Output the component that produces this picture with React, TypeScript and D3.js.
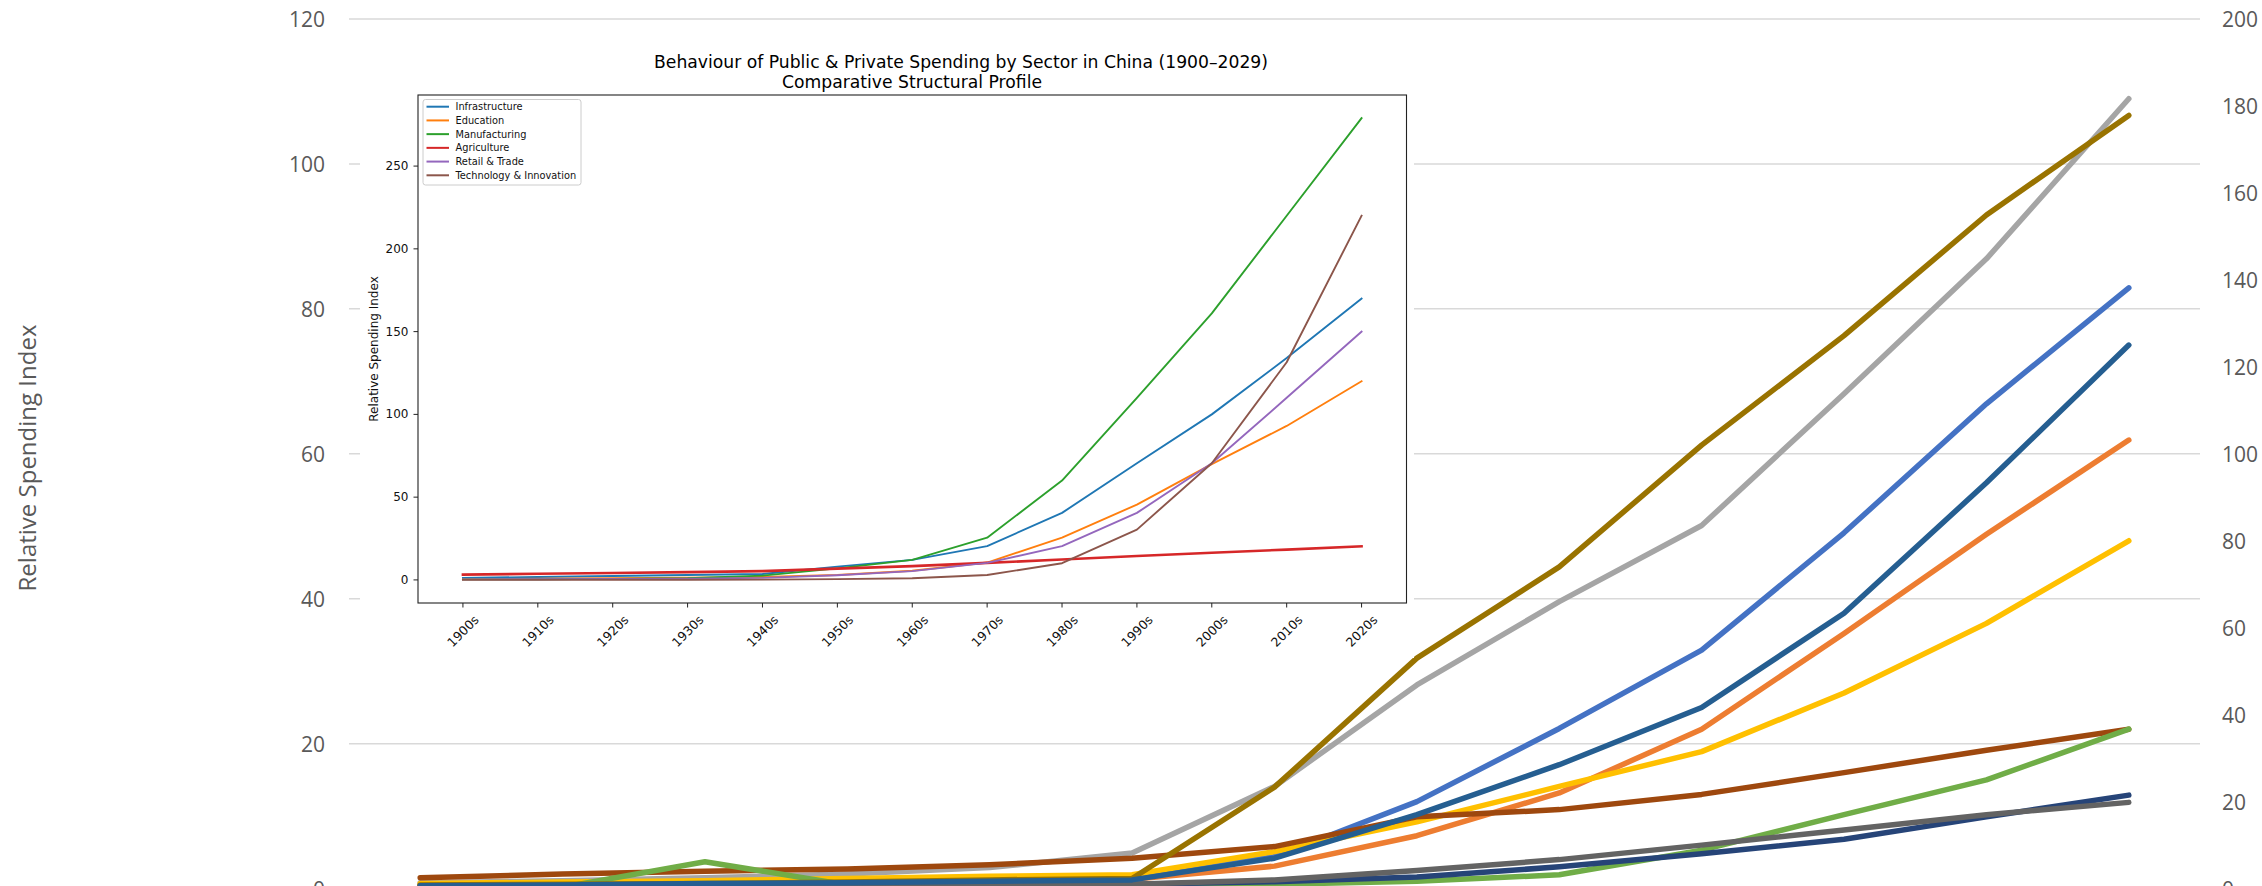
import React from 'react';
import * as d3 from 'd3';

// ---------- shared categories ----------
const decades = ['1900s', '1910s', '1920s', '1930s', '1940s', '1950s', '1960s', '1970s', '1980s', '1990s', '2000s', '2010s', '2020s'];

// ---------- outer chart (values on the left axis, 0-120) ----------
const leftTicks = [0, 20, 40, 60, 80, 100, 120];
const rightTicks = [0, 20, 40, 60, 80, 100, 120, 140, 160, 180, 200];

const outerBlue = [0.5, 0.6, 0.8, 1.0, 1.2, 1.4, 4.4, 12.0, 22.1, 32.9, 49.1, 66.9, 82.9];
const outerOrange = [0.5, 0.6, 0.8, 1.0, 1.2, 1.3, 3.1, 7.3, 13.2, 22.0, 35.2, 48.9, 61.9];
const outerGray = [0.8, 1.1, 1.5, 2.0, 2.9, 4.9, 14.1, 28.1, 39.6, 50.1, 68.3, 86.9, 109.0];
const outerYellow = [0.7, 0.9, 1.1, 1.4, 1.7, 1.9, 5.1, 9.2, 14.1, 18.9, 27.0, 36.6, 48.0];
const outerBrown = [1.5, 2.0, 2.4, 2.7, 3.3, 4.2, 5.8, 9.9, 10.9, 13.0, 16.0, 19.1, 22.0];
const outerGreen = [0.0, 0.2, 3.7, 0.5, 0.4, 0.5, 0.6, 1.0, 1.9, 5.3, 10.2, 15.0, 22.0];
const outerNavy = [0.2, 0.3, 0.3, 0.4, 0.5, 0.6, 0.95, 1.6, 3.0, 4.8, 6.8, 9.9, 12.9];
const outerDarkGray = [0.2, 0.3, 0.35, 0.4, 0.5, 0.6, 1.2, 2.5, 4.0, 6.0, 8.1, 10.2, 11.9];
const outerGold = [0.5, 0.6, 0.7, 0.9, 1.2, 1.4, 14.0, 31.8, 44.4, 61.2, 76.3, 92.95, 106.7];
const outerDarkBlue = [0.4, 0.5, 0.7, 0.8, 1.0, 1.2, 4.2, 10.2, 17.1, 25.0, 38.0, 56.0, 75.0];

const outerSeries = [
  { name: 'Series 1', values: outerBlue, color: '#4472C4' },
  { name: 'Series 2', values: outerOrange, color: '#ED7D31' },
  { name: 'Series 3', values: outerGray, color: '#A5A5A5' },
  { name: 'Series 4', values: outerYellow, color: '#FFC000' },
  { name: 'Series 5', values: outerBrown, color: '#9E480E' },
  { name: 'Series 6', values: outerGreen, color: '#70AD47' },
  { name: 'Series 7', values: outerNavy, color: '#264478' },
  { name: 'Series 8', values: outerDarkGray, color: '#636363' },
  { name: 'Series 9', values: outerGold, color: '#997300' },
  { name: 'Series 10', values: outerDarkBlue, color: '#255E91' },
];

// ---------- inset chart ----------
const insetTitle1 = 'Behaviour of Public & Private Spending by Sector in China (1900–2029)';
const insetTitle2 = 'Comparative Structural Profile';
const insetYLabel = 'Relative Spending Index';
const insetYTicks = [0, 50, 100, 150, 200, 250];

const infrastructure = [1.2, 1.8, 2.4, 3.0, 3.6, 8.0, 12.1, 20.4, 40.5, 70.5, 100.0, 134.0, 170.0];
const education = [0.5, 0.7, 1.0, 1.3, 1.8, 3.0, 5.5, 10.5, 25.5, 45.5, 70.0, 93.0, 120.0];
const manufacturing = [0.3, 0.4, 0.6, 1.0, 2.6, 7.0, 12.1, 25.5, 60.0, 110.0, 161.0, 220.0, 279.0];
const agriculture = [3.2, 3.7, 4.2, 4.7, 5.3, 6.8, 8.3, 10.3, 12.3, 14.4, 16.4, 18.3, 20.3];
const retail = [0.3, 0.4, 0.6, 0.8, 1.2, 2.8, 5.3, 10.3, 20.4, 40.5, 70.5, 110.0, 150.0];
const technology = [0.0, 0.0, 0.1, 0.1, 0.2, 0.5, 1.0, 3.0, 10.1, 30.4, 70.5, 131.5, 220.0];

const insetSeries = [
  { name: 'Infrastructure', values: infrastructure, color: '#1f77b4' },
  { name: 'Education', values: education, color: '#ff7f0e' },
  { name: 'Manufacturing', values: manufacturing, color: '#2ca02c' },
  { name: 'Agriculture', values: agriculture, color: '#d62728' },
  { name: 'Retail & Trade', values: retail, color: '#9467bd' },
  { name: 'Technology & Innovation', values: technology, color: '#8c564b' },
];

const outerTitle = 'Relative Spending Index';

export default function App() {
  const W = 2262;
  const H = 886;

  // outer scales
  const plotLeft = 349;
  const plotRight = 2200;
  const plotTop = 19;
  const plotBottom = 888.6;
  const ox = d3.scalePoint<string>().domain(decades).range([plotLeft, plotRight]).padding(0.5);
  const yL = d3.scaleLinear().domain([0, 120]).range([plotBottom, plotTop]);
  const yR = d3.scaleLinear().domain([0, 200]).range([plotBottom, plotTop]);
  const outerLine = d3
    .line<number>()
    .x((_, i) => ox(decades[i]) as number)
    .y((d) => yL(d));

  // inset scales
  const aL = 418;
  const aR = 1406.5;
  const aT = 95;
  const aB = 603;
  const ix = d3.scalePoint<string>().domain(decades).range([aL, aR]).padding(0.6);
  const allVals = insetSeries.flatMap((s) => s.values);
  const [mn, mx] = d3.extent(allVals) as [number, number];
  const pad = (mx - mn) * 0.05;
  const iy = d3.scaleLinear().domain([mn - pad, mx + pad]).range([aB, aT]);
  const insetLine = d3
    .line<number>()
    .x((_, i) => ix(decades[i]) as number)
    .y((d) => iy(d));

  const outerFont = "'Open Sans', 'Noto Sans', sans-serif";
  const mplFont = "'DejaVu Sans', sans-serif";

  return (
    <svg
      width={W}
      height={H}
      viewBox={`0 0 ${W} ${H}`}
      style={{ position: 'absolute', left: 0, top: 0, background: '#fff' }}
    >
      <rect x={0} y={0} width={W} height={H} fill="#fff" />

      {/* outer gridlines */}
      {leftTicks.map((t) => (
        <line key={'g' + t} x1={plotLeft} x2={plotRight} y1={yL(t)} y2={yL(t)} stroke="#D9D9D9" strokeWidth={1.5} />
      ))}

      {/* outer left tick labels */}
      {leftTicks.map((t) => (
        <text
          key={'l' + t}
          x={325}
          y={yL(t)}
          textAnchor="end"
          dominantBaseline="central"
          fontFamily={outerFont}
          fontSize={21}
          fill="#595959"
        >
          {t}
        </text>
      ))}
      {/* outer right tick labels */}
      {rightTicks.map((t) => (
        <text
          key={'r' + t}
          x={2222}
          y={yR(t)}
          textAnchor="start"
          dominantBaseline="central"
          fontFamily={outerFont}
          fontSize={21}
          fill="#595959"
        >
          {t}
        </text>
      ))}

      {/* outer axis title */}
      <text
        transform={`translate(26, 458) rotate(-90)`}
        textAnchor="middle"
        dominantBaseline="central"
        fontFamily={outerFont}
        fontSize={24}
        fill="#595959"
      >
        {outerTitle}
      </text>

      {/* outer lines */}
      {outerSeries.map((s) => (
        <path
          key={s.name}
          d={outerLine(s.values) || ''}
          fill="none"
          stroke={s.color}
          strokeWidth={5.5}
          strokeLinejoin="round"
          strokeLinecap="round"
        />
      ))}

      {/* ---------- inset figure ---------- */}
      <rect x={360} y={30} width={1054} height={628} fill="#fff" />

      <text x={961} y={62} textAnchor="middle" dominantBaseline="central" fontFamily={mplFont} fontSize={17.2} fill="#000">
        {insetTitle1}
      </text>
      <text x={912} y={81.5} textAnchor="middle" dominantBaseline="central" fontFamily={mplFont} fontSize={17.2} fill="#000">
        {insetTitle2}
      </text>

      {/* inset lines, clipped to axes */}
      <defs>
        <clipPath id="insetClip">
          <rect x={aL} y={aT} width={aR - aL} height={aB - aT} />
        </clipPath>
      </defs>
      <g clipPath="url(#insetClip)">
        {insetSeries.map((s) => (
          <path
            key={s.name}
            d={insetLine(s.values) || ''}
            fill="none"
            stroke={s.color}
            strokeWidth={s.name === 'Agriculture' ? 2.6 : 1.9}
            strokeLinejoin="round"
            strokeLinecap="square"
          />
        ))}
      </g>

      {/* inset frame */}
      <rect x={aL} y={aT} width={aR - aL} height={aB - aT} fill="none" stroke="#222" strokeWidth={1.1} />

      {/* inset y ticks */}
      {insetYTicks.map((t) => (
        <g key={'iy' + t}>
          <line x1={aL - 4.5} x2={aL} y1={iy(t)} y2={iy(t)} stroke="#222" strokeWidth={1} />
          <text
            x={aL - 9.5}
            y={iy(t)}
            textAnchor="end"
            dominantBaseline="central"
            fontFamily={mplFont}
            fontSize={12}
            fill="#111"
          >
            {t}
          </text>
        </g>
      ))}
      <text
        transform={`translate(374, ${(aT + aB) / 2}) rotate(-90)`}
        textAnchor="middle"
        dominantBaseline="central"
        fontFamily={mplFont}
        fontSize={12}
        fill="#111"
      >
        {insetYLabel}
      </text>

      {/* inset x ticks */}
      {decades.map((d) => {
        const x = ix(d) as number;
        return (
          <g key={'ix' + d}>
            <line x1={x} x2={x} y1={aB} y2={aB + 4.5} stroke="#222" strokeWidth={1} />
            <text
              transform={`translate(${x}, ${aB + 28}) rotate(-45)`}
              textAnchor="middle"
              dominantBaseline="central"
              fontFamily={mplFont}
              fontSize={12.5}
              fill="#111"
            >
              {d}
            </text>
          </g>
        );
      })}

      {/* inset legend */}
      <rect x={423} y={99.5} width={158} height={85.5} rx={2.5} fill="#fff" fillOpacity={0.8} stroke="#cccccc" strokeWidth={1} />
      {insetSeries.map((s, k) => {
        const y = 106.7 + k * 13.72;
        return (
          <g key={'lg' + s.name}>
            <line x1={426.5} x2={449} y1={y} y2={y} stroke={s.color} strokeWidth={2} />
            <text x={455.5} y={y} dominantBaseline="central" fontFamily={mplFont} fontSize={9.8} fill="#111">
              {s.name}
            </text>
          </g>
        );
      })}
    </svg>
  );
}
